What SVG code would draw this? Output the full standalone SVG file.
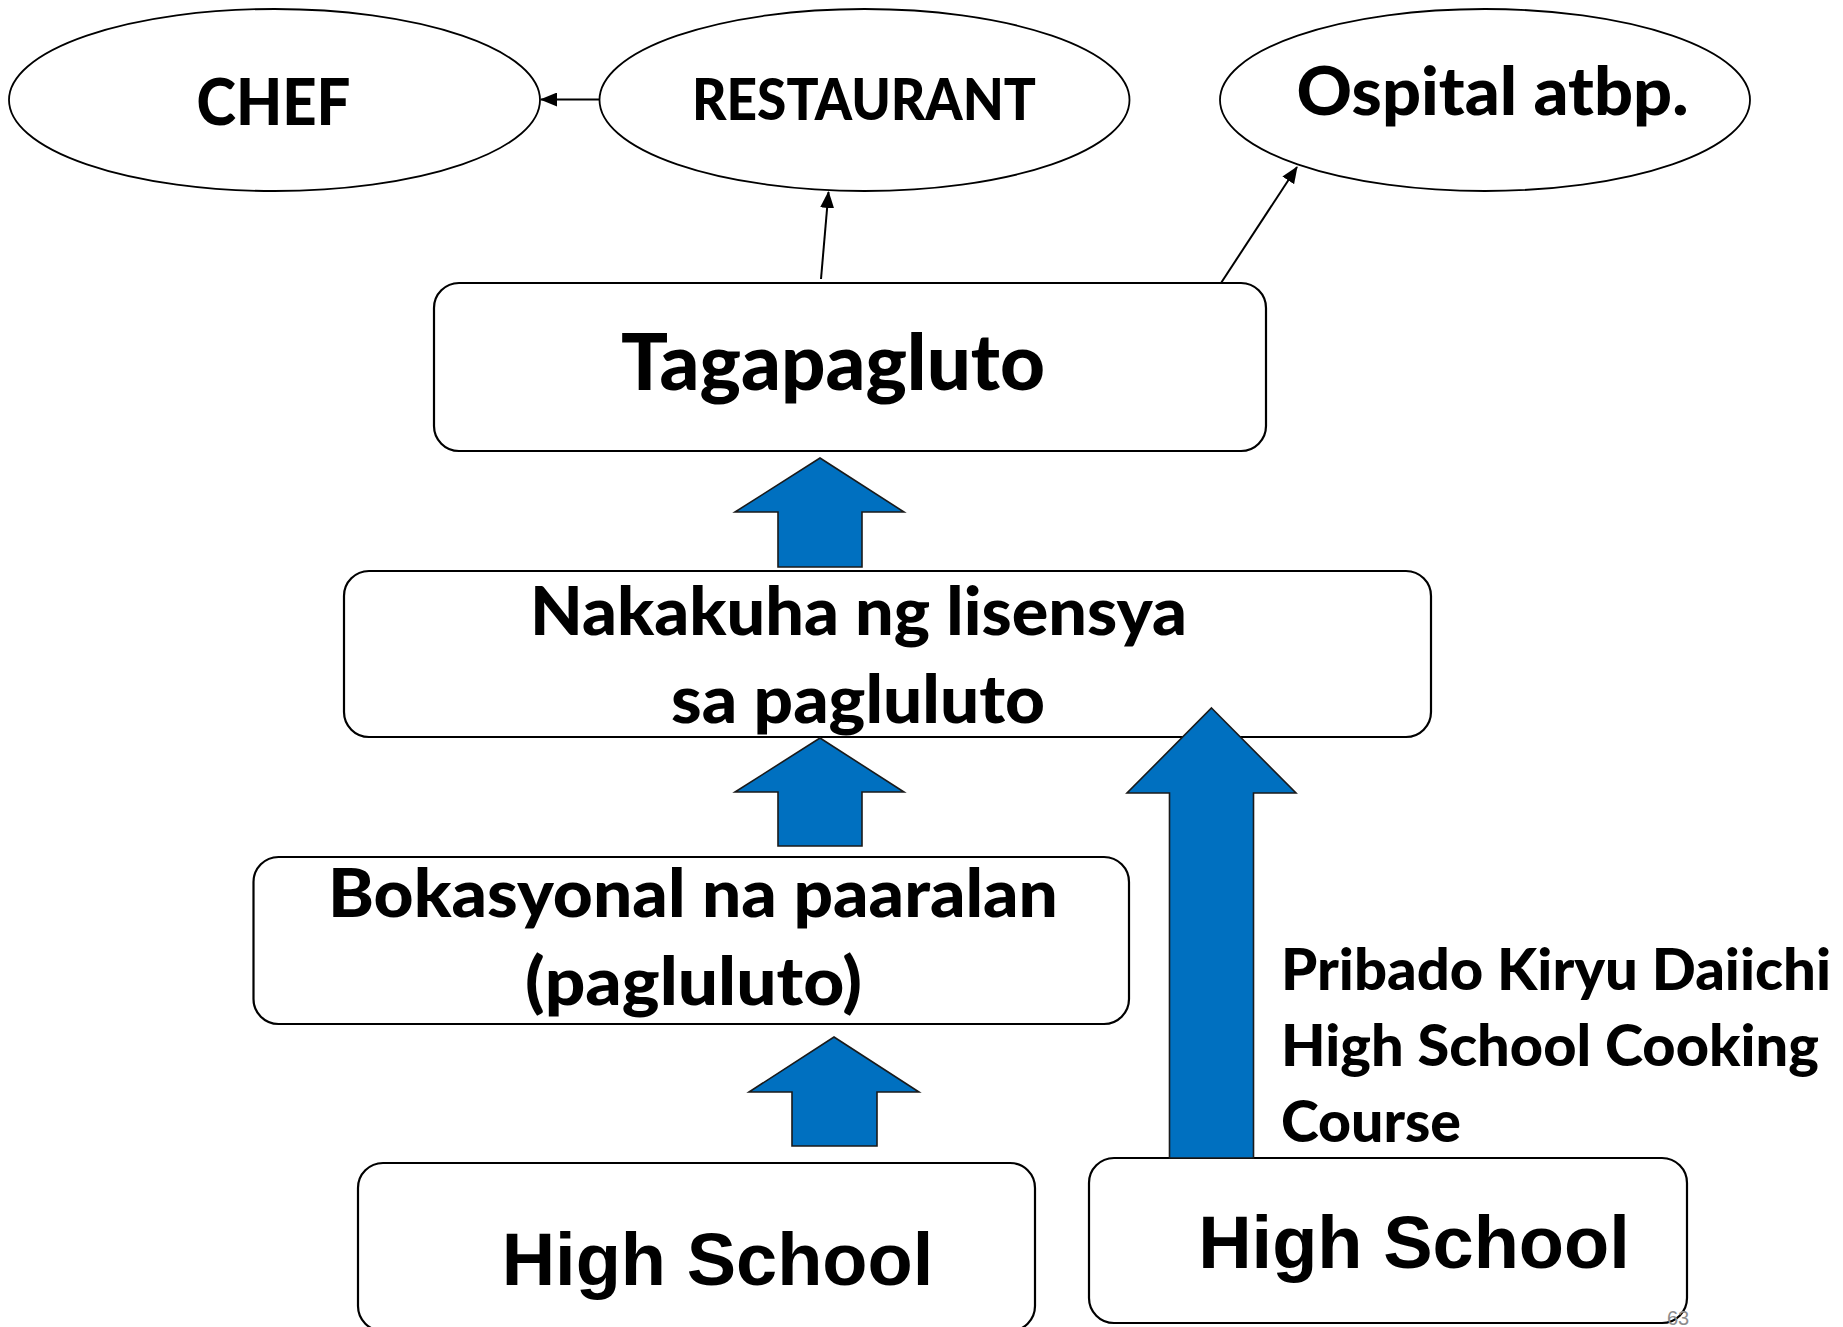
<svg xmlns="http://www.w3.org/2000/svg" width="1843" height="1327" viewBox="0 0 1843 1327">
<style>
.bg{fill:#ffffff}
.ell{fill:#ffffff;stroke:#000000;stroke-width:1.8}
.box{fill:#ffffff;stroke:#000000;stroke-width:2.2}
.t{font-family:Lato,"Open Sans","Liberation Sans",sans-serif;font-weight:900;fill:#000000}
.a{font-family:"Liberation Sans",Arial,sans-serif;font-weight:bold;fill:#000000}
.big{fill:#0070C0;stroke:#1a1a1a;stroke-width:1.6;stroke-linejoin:miter}
.con{fill:none;stroke:#000000;stroke-width:2}
.num{font-family:"Liberation Sans",Arial,sans-serif;fill:#8c8c8c}
</style>
<defs>
<marker id="ah" markerUnits="userSpaceOnUse" markerWidth="18" markerHeight="14" refX="16" refY="7" orient="auto">
<path d="M0,0 L17,7 L0,14 Z" fill="#000000"/>
</marker>
</defs>
<rect class="bg" x="0" y="0" width="1843" height="1327"/>

<g id="chef">
<ellipse class="ell" cx="274.5" cy="100" rx="265.5" ry="91"/>
<text class="t" x="273.5" y="124.5" font-size="65" text-anchor="middle" textLength="154" lengthAdjust="spacingAndGlyphs">CHEF</text>
</g>
<g id="restaurant">
<ellipse class="ell" cx="864.5" cy="100" rx="265" ry="91"/>
<text class="t" x="864" y="119.5" font-size="57" text-anchor="middle" textLength="344" lengthAdjust="spacingAndGlyphs">RESTAURANT</text>
</g>
<g id="ospital">
<ellipse class="ell" cx="1485" cy="100" rx="265" ry="91"/>
<text class="t" x="1492.5" y="115" font-size="67" text-anchor="middle" textLength="392" lengthAdjust="spacingAndGlyphs">Ospital atbp.</text>
</g>

<g id="tagapagluto">
<rect class="box" x="434" y="283" width="832" height="168" rx="25" ry="25"/>
<text class="t" x="833" y="390" font-size="78" text-anchor="middle" textLength="424" lengthAdjust="spacingAndGlyphs">Tagapagluto</text>
</g>

<g id="nakakuha">
<rect class="box" x="344" y="571" width="1087" height="166" rx="25" ry="25"/>
<text class="t" x="858.5" y="635" font-size="66" text-anchor="middle" textLength="657" lengthAdjust="spacingAndGlyphs">Nakakuha ng lisensya</text>
<text class="t" x="858" y="723" font-size="66" text-anchor="middle" textLength="374" lengthAdjust="spacingAndGlyphs">sa pagluluto</text>
</g>

<g id="bokasyonal">
<rect class="box" x="253.5" y="857" width="875.5" height="167" rx="25" ry="25"/>
<text class="t" x="693" y="917" font-size="66" text-anchor="middle" textLength="730" lengthAdjust="spacingAndGlyphs">Bokasyonal na paaralan</text>
<text class="t" x="693.5" y="1005" font-size="66" text-anchor="middle" textLength="337" lengthAdjust="spacingAndGlyphs">(pagluluto)</text>
</g>

<g id="highschool1">
<rect class="box" x="358" y="1163" width="677" height="168" rx="25" ry="25"/>
<text class="a" x="717.5" y="1285" font-size="74" text-anchor="middle">High School</text>
</g>

<g id="highschool2">
<rect class="box" x="1089" y="1158" width="598" height="165" rx="25" ry="25"/>
<text class="a" x="1414" y="1268" font-size="74" text-anchor="middle">High School</text>
</g>

<g id="connectors">
<line class="con" x1="600" y1="99.5" x2="541" y2="99.5" marker-end="url(#ah)"/>
<line class="con" x1="821" y1="279" x2="828.5" y2="192" marker-end="url(#ah)"/>
<line class="con" x1="1221" y1="283" x2="1297" y2="167" marker-end="url(#ah)"/>
<polygon class="big" points="820,458 904,512 862,512 862,567 778,567 778,512 735,512"/>
<polygon class="big" points="820,738 904,792 862,792 862,846 778,846 778,792 735,792"/>
<polygon class="big" points="834,1037 919,1092 877,1092 877,1146 792,1146 792,1092 749,1092"/>
<polygon class="big" points="1211.5,708 1296,793 1253.5,793 1253.5,1158 1169.5,1158 1169.5,793 1127,793"/>
</g>

<g id="label">
<text class="t" x="1281" y="990" font-size="57" textLength="550" lengthAdjust="spacingAndGlyphs">Pribado Kiryu Daiichi</text>
<text class="t" x="1281" y="1066" font-size="57" textLength="538" lengthAdjust="spacingAndGlyphs">High School Cooking</text>
<text class="t" x="1281" y="1142" font-size="57" textLength="180" lengthAdjust="spacingAndGlyphs">Course</text>
</g>

<text class="num" x="1667" y="1325" font-size="20">63</text>
</svg>
